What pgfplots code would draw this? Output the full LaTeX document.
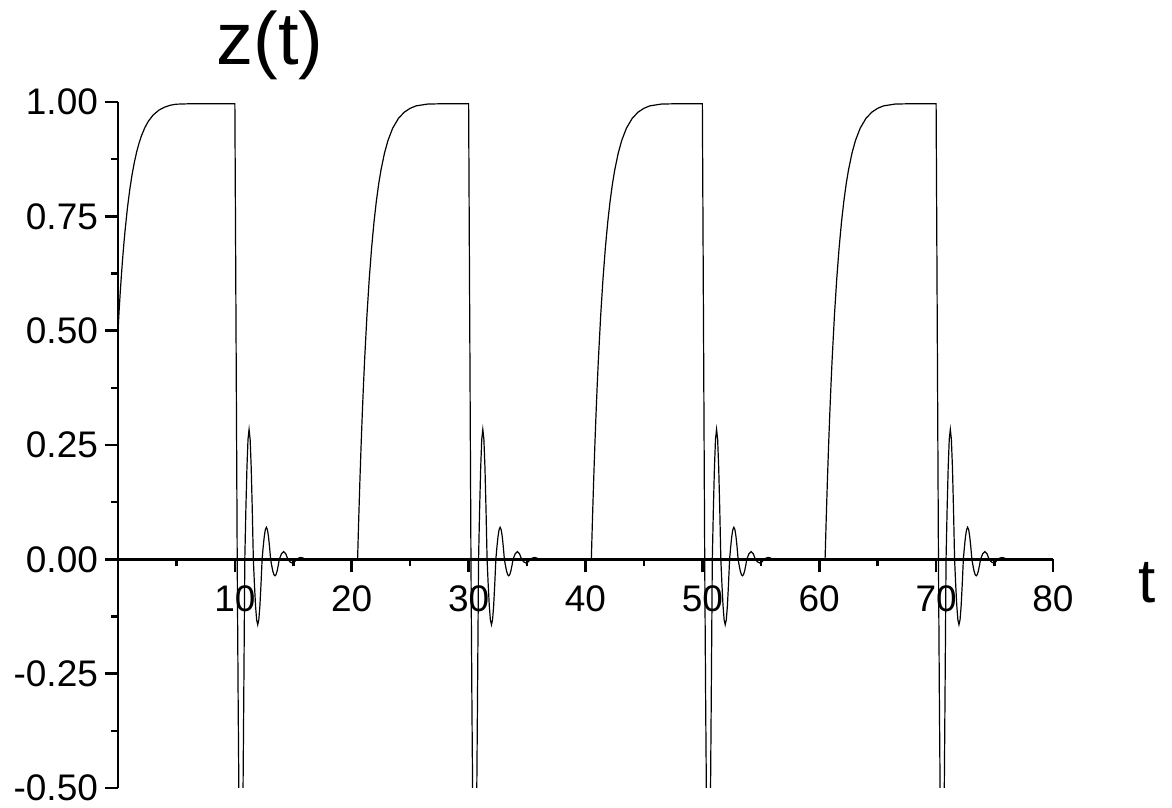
\documentclass[border=0pt]{standalone}
\usepackage{fontspec}
\setmainfont{Liberation Sans}
\usepackage{pgfplots}
\usepackage{pgfplotstable}
\pgfplotsset{compat=1.18}
\pgfplotstableread{
t z
0 0.5
0.1 0.5454
0.2 0.5868
0.3 0.6243
0.4 0.6584
0.5 0.6894
0.6 0.7177
0.8 0.7666
1.0 0.8071
1.2 0.8406
1.4 0.8682
1.6 0.8911
1.8 0.9100
2.0 0.9256
2.3 0.9441
2.6 0.9580
3.0 0.9713
3.5 0.9822
4.0 0.9889
4.5 0.9931
5.0 0.9952
6.0 0.9960
10.0 0.9960
10.2 0
10.28 -0.306
10.36 -0.566
10.44 -0.739
10.52 -0.8
10.6 -0.739
10.68 -0.566
10.76 -0.306
10.85 0
10.941 0.1087
11.033 0.2008
11.124 0.2624
11.215 0.284
11.306 0.2624
11.398 0.2008
11.489 0.1087
11.58 0
11.674 -0.0547
11.768 -0.1011
11.861 -0.1321
11.955 -0.143
12.049 -0.1321
12.143 -0.1011
12.236 -0.0547
12.33 0
12.421 0.0268
12.513 0.0495
12.604 0.0647
12.695 0.07
12.786 0.0647
12.878 0.0495
12.969 0.0268
13.06 0
13.153 -0.0138
13.245 -0.0255
13.338 -0.0333
13.43 -0.036
13.523 -0.0333
13.615 -0.0255
13.708 -0.0138
13.8 0
13.985 0.012
14.17 0.017
14.355 0.012
14.54 0
14.725 -0.0057
14.91 -0.008
15.095 -0.0057
15.28 0
15.465 0.0028
15.65 0.004
15.835 0.0028
16.02 0
16.205 -0.0014
16.39 -0.002
16.575 -0.0014
16.76 0
20.5 0
20.6 0.0908
20.7 0.1735
20.8 0.2485
20.9 0.3168
21.0 0.3789
21.1 0.4353
21.3 0.5332
21.5 0.6142
21.7 0.6811
21.9 0.7364
22.1 0.7821
22.3 0.8199
22.5 0.8511
22.8 0.8881
23.1 0.9159
23.5 0.9426
24.0 0.9643
24.5 0.9778
25.0 0.9862
25.5 0.9915
26.5 0.9955
27.5 0.9960
30.0 0.9960
30.2 0
30.28 -0.306
30.36 -0.566
30.44 -0.739
30.52 -0.8
30.6 -0.739
30.68 -0.566
30.76 -0.306
30.85 0
30.941 0.1087
31.033 0.2008
31.124 0.2624
31.215 0.284
31.306 0.2624
31.398 0.2008
31.489 0.1087
31.58 0
31.674 -0.0547
31.768 -0.1011
31.861 -0.1321
31.955 -0.143
32.049 -0.1321
32.143 -0.1011
32.236 -0.0547
32.33 0
32.421 0.0268
32.513 0.0495
32.604 0.0647
32.695 0.07
32.786 0.0647
32.878 0.0495
32.969 0.0268
33.06 0
33.153 -0.0138
33.245 -0.0255
33.338 -0.0333
33.43 -0.036
33.523 -0.0333
33.615 -0.0255
33.708 -0.0138
33.8 0
33.985 0.012
34.17 0.017
34.355 0.012
34.54 0
34.725 -0.0057
34.91 -0.008
35.095 -0.0057
35.28 0
35.465 0.0028
35.65 0.004
35.835 0.0028
36.02 0
36.205 -0.0014
36.39 -0.002
36.575 -0.0014
36.76 0
40.5 0
40.6 0.0908
40.7 0.1735
40.8 0.2485
40.9 0.3168
41.0 0.3789
41.1 0.4353
41.3 0.5332
41.5 0.6142
41.7 0.6811
41.9 0.7364
42.1 0.7821
42.3 0.8199
42.5 0.8511
42.8 0.8881
43.1 0.9159
43.5 0.9426
44.0 0.9643
44.5 0.9778
45.0 0.9862
45.5 0.9915
46.5 0.9955
47.5 0.9960
50.0 0.9960
50.2 0
50.28 -0.306
50.36 -0.566
50.44 -0.739
50.52 -0.8
50.6 -0.739
50.68 -0.566
50.76 -0.306
50.85 0
50.941 0.1087
51.033 0.2008
51.124 0.2624
51.215 0.284
51.306 0.2624
51.398 0.2008
51.489 0.1087
51.58 0
51.674 -0.0547
51.768 -0.1011
51.861 -0.1321
51.955 -0.143
52.049 -0.1321
52.143 -0.1011
52.236 -0.0547
52.33 0
52.421 0.0268
52.513 0.0495
52.604 0.0647
52.695 0.07
52.786 0.0647
52.878 0.0495
52.969 0.0268
53.06 0
53.153 -0.0138
53.245 -0.0255
53.338 -0.0333
53.43 -0.036
53.523 -0.0333
53.615 -0.0255
53.708 -0.0138
53.8 0
53.985 0.012
54.17 0.017
54.355 0.012
54.54 0
54.725 -0.0057
54.91 -0.008
55.095 -0.0057
55.28 0
55.465 0.0028
55.65 0.004
55.835 0.0028
56.02 0
56.205 -0.0014
56.39 -0.002
56.575 -0.0014
56.76 0
60.5 0
60.6 0.0908
60.7 0.1735
60.8 0.2485
60.9 0.3168
61.0 0.3789
61.1 0.4353
61.3 0.5332
61.5 0.6142
61.7 0.6811
61.9 0.7364
62.1 0.7821
62.3 0.8199
62.5 0.8511
62.8 0.8881
63.1 0.9159
63.5 0.9426
64.0 0.9643
64.5 0.9778
65.0 0.9862
65.5 0.9915
66.5 0.9955
67.5 0.9960
70.0 0.9960
70.2 0
70.28 -0.306
70.36 -0.566
70.44 -0.739
70.52 -0.8
70.6 -0.739
70.68 -0.566
70.76 -0.306
70.85 0
70.941 0.1087
71.033 0.2008
71.124 0.2624
71.215 0.284
71.306 0.2624
71.398 0.2008
71.489 0.1087
71.58 0
71.674 -0.0547
71.768 -0.1011
71.861 -0.1321
71.955 -0.143
72.049 -0.1321
72.143 -0.1011
72.236 -0.0547
72.33 0
72.421 0.0268
72.513 0.0495
72.604 0.0647
72.695 0.07
72.786 0.0647
72.878 0.0495
72.969 0.0268
73.06 0
73.153 -0.0138
73.245 -0.0255
73.338 -0.0333
73.43 -0.036
73.523 -0.0333
73.615 -0.0255
73.708 -0.0138
73.8 0
73.985 0.012
74.17 0.017
74.355 0.012
74.54 0
74.725 -0.0057
74.91 -0.008
75.095 -0.0057
75.28 0
75.465 0.0028
75.65 0.004
75.835 0.0028
76.02 0
76.205 -0.0014
76.39 -0.002
76.575 -0.0014
76.76 0
80.0 0
}\zdata
\begin{document}
\begin{tikzpicture}
\useasboundingbox (-59pt,-10pt) rectangle (527pt,394pt);
\begin{axis}[
  scale only axis,
  width=467.5pt, height=343pt,
  xmin=0, xmax=80, ymin=-0.5, ymax=1,
  axis x line=middle, axis y line=left,
  axis line style={-, line width=1.3pt, black},
  every inner x axis line/.append style={-},
  every outer y axis line/.append style={-},
  xtick={10,20,30,40,50,60,70,80},
  xticklabels={10,20,30,40,50,60,70,80},
  minor xtick={5,15,25,35,45,55,65,75},
  ytick={-0.5,-0.25,0,0.25,0.5,0.75,1},
  yticklabels={-0.50,-0.25,0.00,0.25,0.50,0.75,1.00},
  minor ytick={-0.375,-0.125,0.125,0.375,0.625,0.875},
  tick align=outside,
  major tick length=6.5pt, minor tick length=3.5pt,
  every tick/.style={black, line width=1.3pt},
  tick label style={font=\fontsize{18.5}{22}\selectfont},
  xticklabel style={yshift=-3pt},
  /pgf/number format/assume math mode=true,
  ylabel={z(t)},
  every axis y label/.style={at={(axis description cs:0.1625,1)}, anchor=base, yshift=18.5pt, rotate=0, font=\fontsize{37}{44}\selectfont},
  xlabel={t},
  every axis x label/.style={at={(axis description cs:1,0.33333)}, anchor=base, xshift=47pt, yshift=-21.5pt, font=\fontsize{31}{37}\selectfont},
]
\addplot[black, line width=0.6pt] table[x=t, y=z] {\zdata};
\end{axis}
\end{tikzpicture}
\end{document}
